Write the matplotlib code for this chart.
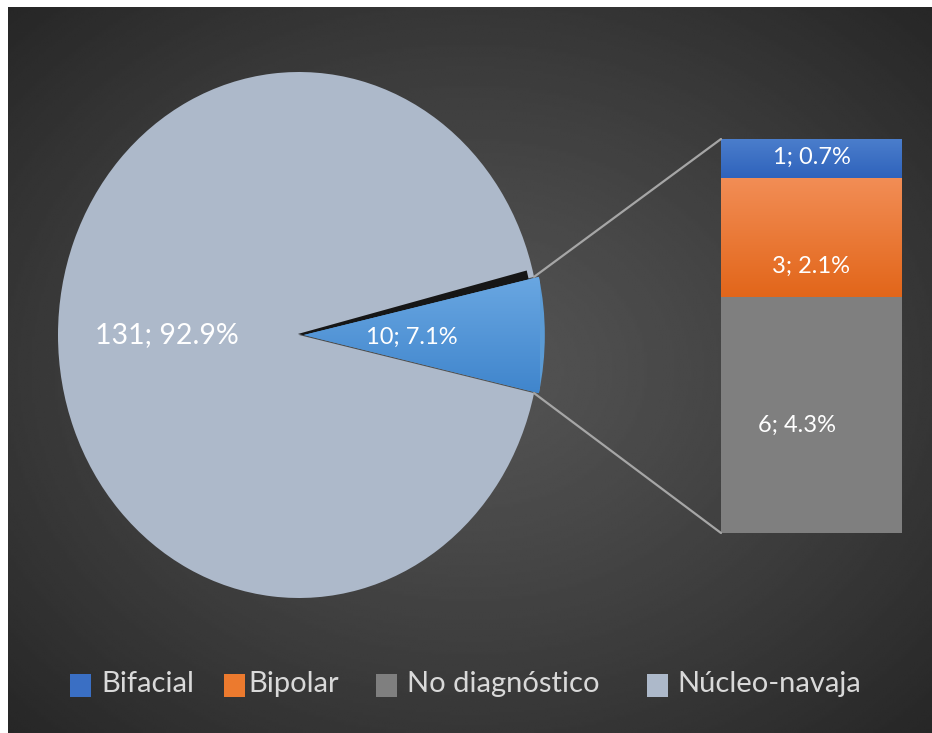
import numpy as np
import matplotlib.pyplot as plt
from matplotlib.patches import ConnectionPatch, Rectangle, Wedge
from matplotlib.colors import LinearSegmentedColormap
from matplotlib.transforms import ScaledTranslation

plt.rcParams['font.family'] = ['Lato', 'DejaVu Sans']

# pie: the small group is split out into the bar
pie_labels = ['Otros', 'Núcleo-navaja']
pie_values = [10, 131]
pie_text = ['10; 7.1%', '131; 92.9%']

# bar: breakdown of the small group (bottom to top)
bar_labels = ['No diagnóstico', 'Bipolar', 'Bifacial']
bar_values = [6, 3, 1]
bar_text = ['6; 4.3%', '3; 2.1%', '1; 0.7%']

legend_labels = ['Bifacial', 'Bipolar', 'No diagnóstico', 'Núcleo-navaja']

W, H = 932, 733
fig = plt.figure(figsize=(W / 100, H / 100), dpi=100)
fig.patch.set_facecolor('white')


def fbox(x0, y0, x1, y1):
    # pixel box (top-left origin) -> figure fraction rect
    return [x0 / W, 1 - y1 / H, (x1 - x0) / W, (y1 - y0) / H]


def px(dx, dy):
    return ScaledTranslation(dx / 100, dy / 100, fig.dpi_scale_trans)


# radial background
bg = fig.add_axes(fbox(8, 7, W, H))
bg.set_axis_off()
yy, xx = np.mgrid[0:1:300j, 0:1:400j]
r = np.sqrt(((xx - 0.5) / 0.75) ** 2 + ((yy - 0.5) / 0.75) ** 2)
r = np.clip(r / 0.95, 0, 1)
shade = 0.33 - 0.18 * r ** 1.2
bg.imshow(shade, cmap='gray', vmin=0, vmax=1, aspect='auto',
          extent=[0, 1, 1, 0], interpolation='bilinear')
bg.set_xlim(0, 1)
bg.set_ylim(1, 0)

# pie (drawn as an ellipse, aspect left free)
cx, cy, rx, ry = 299, 335, 241, 263
axp = fig.add_axes(fbox(cx - rx, cy - ry, cx + rx, cy + ry))
half = pie_values[0] / sum(pie_values) * 360 / 2
wedges, _ = axp.pie(pie_values, colors=['#5B9BD5', '#ADB9CA'],
                    startangle=-half, counterclock=True, radius=1,
                    explode=[0.02, 0], wedgeprops=dict(linewidth=0))
wedges[1].set_zorder(0.4)
wedges[0].set_zorder(1)

# dark shadow behind the small slice, widening toward the rim
w0 = wedges[0]
shadow = Wedge(w0.center, w0.r * 0.98, w0.theta1 + 2, w0.theta2 + 1.5,
               color='#161616', lw=0, zorder=0.5)
shadow.set_transform(axp.transData + px(-6, 1))
axp.add_patch(shadow)

# gradient fill of the blue slice
blue_cm = LinearSegmentedColormap.from_list('b', ['#6CA9E3', '#3D83CB'])
im = axp.imshow(np.linspace(0, 1, 200)[:, None], cmap=blue_cm,
                extent=[0, 1.05, -0.25, 0.25], origin='upper',
                aspect='auto', zorder=1.1)
im.set_clip_path(w0)
axp.set_aspect('auto')
axp.set_xlim(-1, 1)
axp.set_ylim(-1, 1)
axp.set_axis_off()

axp.text(-0.548, 0.0, pie_text[1], color='white', fontsize=20.5,
         ha='center', va='center')
axp.text(0.47, -0.01, pie_text[0], color='white', fontsize=17,
         ha='center', va='center', zorder=3)

# stacked bar
axb = fig.add_axes(fbox(721, 139, 902, 533))
axb.add_patch(Rectangle((-0.5, 0), 1, sum(bar_values), color='black',
                        alpha=0.25, lw=0, zorder=0.5,
                        transform=axb.transData + px(4, -4)))
bar_colors = ['#7F7F7F', ['#F28D55', '#E2661A'], ['#4B7ECC', '#2F63BC']]
bottom = 0
for v, c in zip(bar_values, bar_colors):
    if isinstance(c, list):
        b = axb.bar(0, v, bottom=bottom, width=1, color=c[1], linewidth=0)
        cm = LinearSegmentedColormap.from_list('g', c)
        gi = axb.imshow(np.linspace(0, 1, 100)[:, None], cmap=cm,
                        extent=[-0.5, 0.5, bottom, bottom + v],
                        aspect='auto', origin='upper', zorder=2)
        gi.set_clip_path(b[0])
    else:
        axb.bar(0, v, bottom=bottom, width=1, color=c, linewidth=0)
    bottom += v
axb.set_xlim(-0.5, 0.5)
axb.set_ylim(0, sum(bar_values))
axb.set_axis_off()

axb.text(-0.08, 2.74, bar_text[0], color='white', fontsize=17,
         ha='center', va='center', zorder=3)
axb.text(0.0, 6.78, bar_text[1], color='white', fontsize=17,
         ha='center', va='center', zorder=3)
axb.text(0.0, 9.54, bar_text[2], color='white', fontsize=17,
         ha='center', va='center', zorder=3)

# connector lines from the slice edges to the bar
for ang, yb in [(half, sum(bar_values)), (-half, 0)]:
    t = np.deg2rad(ang)
    con = ConnectionPatch(xyA=(np.cos(t), np.sin(t)), coordsA=axp.transData,
                          xyB=(-0.5, yb), coordsB=axb.transData,
                          color='#A6A6A6', lw=1.6)
    fig.add_artist(con)

# legend
leg_colors = ['#3A6FC4', '#EC7A2E', '#7F7F7F', '#ADB9CA']
sq_x = [70, 224, 376, 647]
tx_x = [101, 248, 407, 677]
for lab, col, sx, tx in zip(legend_labels, leg_colors, sq_x, tx_x):
    fig.add_artist(Rectangle((sx / W, 1 - 697 / H), 21 / W, 23 / H,
                             transform=fig.transFigure, color=col, lw=0))
    fig.text(tx / W, 1 - 684 / H, lab, color='#D9D9D9', fontsize=21,
             ha='left', va='center')

fig.savefig('out.png', dpi=100, facecolor='white')
